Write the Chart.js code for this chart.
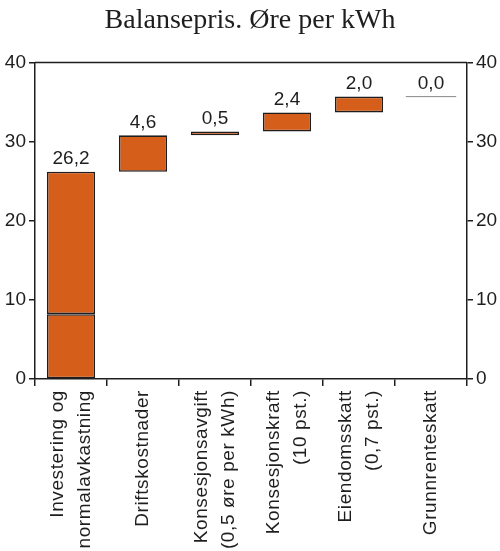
<!DOCTYPE html>
<html>
<head>
<meta charset="utf-8">
<script src="https://cdn.jsdelivr.net/npm/chart.js@4"></script>
<style>
html, body { margin: 0; background: #fff; }
</style>
</head>
<body>
<canvas id="balanseChart" width="500" height="551"></canvas>
<script>
// Data lest av figuren
const kategorier = [
    ['Investering og', 'normalavkastning'],
    ['Driftskostnader'],
    ['Konsesjonsavgift', '(0,5 øre per kWh)'],
    ['Konsesjonskraft', '(10 pst.)'],
    ['Eiendomsskatt', '(0,7 pst.)'],
    ['Grunnrenteskatt']
];
const bidrag = [26.2, 4.6, 0.5, 2.4, 2.0, 0.0];
const investeringDel = 8.2; // skillelinje i første søyle
const yMin = 0;
const yMax = 40;
const yStep = 10;

// Vannfall: start og slutt for hver søyle
const start = [];
const slutt = [];
let sum = 0;
bidrag.forEach(v => {
    start.push(sum);
    sum = Math.round((sum + v) * 10) / 10;
    slutt.push(sum);
});

const nedre = bidrag.map((v, i) => i === 0 ? [0, investeringDel] : null);
const ovre = bidrag.map((v, i) => {
    if (v === 0) return null;
    return i === 0 ? [investeringDel, slutt[i]] : [start[i], slutt[i]];
});

const oransje = '#D55E1B';
const mork = '#1e1e1e';
const sansFamilie = '"Liberation Sans", Arial, sans-serif';

// Verdietiketter, nullstrek, toppramme og kategoritekster
const tegnTekster = {
    id: 'tegnTekster',
    afterDatasetsDraw(chart) {
        const ctx = chart.ctx;
        const x = chart.scales.x;
        const y = chart.scales.y;
        const bredde = x.getPixelForValue(1) - x.getPixelForValue(0);
        ctx.save();
        ctx.font = '19px ' + sansFamilie;
        ctx.fillStyle = mork;
        ctx.textAlign = 'center';
        ctx.textBaseline = 'bottom';
        bidrag.forEach((v, i) => {
            const cx = x.getPixelForValue(i);
            const top = y.getPixelForValue(slutt[i]);
            if (v === 0) {
                ctx.strokeStyle = '#888';
                ctx.lineWidth = 1;
                ctx.beginPath();
                ctx.moveTo(cx - bredde * 0.35, top);
                ctx.lineTo(cx + bredde * 0.35, top);
                ctx.stroke();
            }
            ctx.fillText(v.toFixed(1).replace('.', ','), cx, top - 3);
        });

        // toppramme
        const a = chart.chartArea;
        ctx.strokeStyle = mork;
        ctx.lineWidth = 1.5;
        ctx.beginPath();
        ctx.moveTo(a.left, a.top);
        ctx.lineTo(a.right, a.top);
        ctx.stroke();

        // loddrette kategoritekster, sentrert om søylen
        ctx.letterSpacing = '0.6px';
        ctx.textAlign = 'right';
        ctx.textBaseline = 'middle';
        const linjeAvstand = 27;
        kategorier.forEach((linjer, i) => {
            const cx = x.getPixelForValue(i);
            linjer.forEach((tekst, j) => {
                const lx = cx + (j - (linjer.length - 1) / 2) * linjeAvstand;
                ctx.save();
                ctx.translate(lx, a.bottom + 11);
                ctx.rotate(-Math.PI / 2);
                ctx.fillText(tekst, 0, 0);
                ctx.restore();
            });
        });
        ctx.restore();
    }
};

const aksefont = { family: sansFamilie, size: 19 };

function yAkse(posisjon, bredde) {
    return {
        position: posisjon,
        min: yMin,
        max: yMax,
        ticks: { stepSize: yStep, color: mork, font: aksefont, padding: 3 },
        grid: { drawOnChartArea: false, tickLength: 6, color: mork, lineWidth: 1.5 },
        border: { color: mork, width: 1.5 },
        afterFit(scale) { scale.width = bredde; }
    };
}

const ctx = document.getElementById('balanseChart').getContext('2d');
const balanseChart = new Chart(ctx, {
    type: 'bar',
    data: {
        labels: kategorier.map(l => l.join(' ')),
        datasets: [
            {
                label: 'Nedre',
                data: nedre,
                backgroundColor: oransje,
                borderColor: mork,
                borderWidth: 1.6,
                borderSkipped: false,
                grouped: false,
                barPercentage: 0.67,
                categoryPercentage: 1
            },
            {
                label: 'Øvre',
                data: ovre,
                backgroundColor: oransje,
                borderColor: mork,
                borderWidth: 1.6,
                borderSkipped: false,
                grouped: false,
                barPercentage: 0.67,
                categoryPercentage: 1
            }
        ]
    },
    options: {
        responsive: false,
        animation: false,
        layout: { padding: 0 },
        plugins: {
            legend: { display: false },
            tooltip: { enabled: false },
            title: {
                display: true,
                text: 'Balansepris. Øre per kWh',
                color: mork,
                font: { family: '"Liberation Serif", "Times New Roman", serif', size: 28, weight: 'normal' },
                padding: { top: 4, bottom: 25 }
            }
        },
        scales: {
            x: {
                ticks: { display: false },
                grid: { offset: true, drawOnChartArea: false, tickLength: 7, color: mork, lineWidth: 1.5 },
                border: { color: mork, width: 1.5 },
                afterFit(scale) { scale.height = 172; }
            },
            y: yAkse('left', 35),
            y2: yAkse('right', 33)
        }
    },
    plugins: [tegnTekster]
});
</script>
</body>
</html>
